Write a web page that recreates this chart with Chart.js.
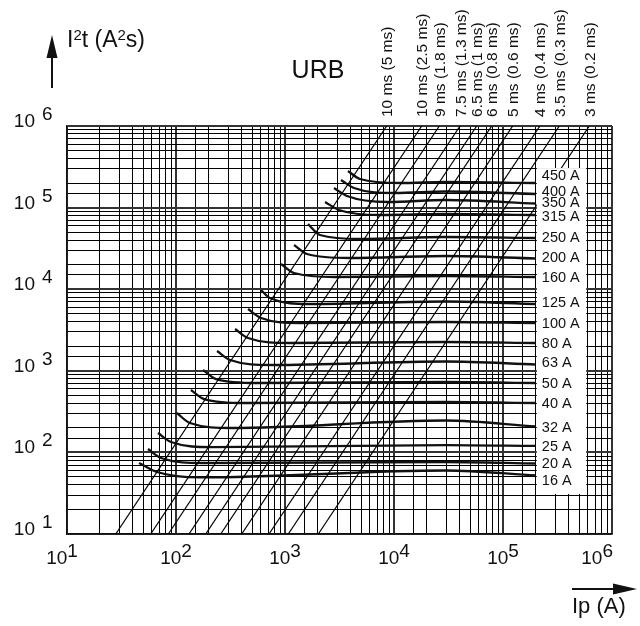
<!DOCTYPE html>
<html lang="en">
<head>
    <meta charset="UTF-8">
    <script src="https://cdn.jsdelivr.net/npm/chart.js"></script>
    <title>URB I2t</title>
    <style>
        body {
            margin: 0;
            background: #fff;
        }
        #wrap {
            width: 640px;
            height: 626px;
        }
    </style>
</head>
<body>
<div id="wrap"><canvas id="myChart"></canvas></div>
<script>
    // fuse ratings, top to bottom
    const ratings = ['450 A', '400 A', '350 A', '315 A', '250 A', '200 A', '160 A', '125 A', '100 A',
        '80 A', '63 A', '50 A', '40 A', '32 A', '25 A', '20 A', '16 A'];

    // upper-left end of each curve (start of the hook)
    const hookIp  = [3785, 3266, 2818, 2329, 1626, 1211, 919, 603, 458, 348, 238, 177, 137, 102, 68.4, 55.3, 45.8];
    const hookI2t = [281000, 217900, 173900, 117100, 62950, 34810, 20360, 9777, 5720, 3253, 1748, 1023, 582, 304, 173, 110, 74.2];
    // bend of the hook
    const kneeIp  = [4875, 4295, 3707, 3126, 2094, 1592, 1211, 728, 603, 458, 313, 233, 181, 134, 90, 72.8, 67];
    const kneeI2t = [224000, 173900, 138800, 93500, 46150, 27010, 15790, 7803, 4438, 2523, 1356, 793, 451, 229, 134, 85.4, 57.5];
    // where the curve goes flat
    const flatIp  = [11350, 10200, 8810, 7450, 4875, 3945, 2877, 1694, 1373, 1112, 760, 565, 439, 327, 218, 177, 166];
    const flatI2t = [200200, 151000, 117100, 81200, 41230, 24120, 14110, 6585, 3854, 2191, 1178, 709, 403, 199, 116, 74.2, 49.3];
    // slight hump around 30 kA, then end of the curve at 200 kA
    const peakIp = 30000;
    const peakI2t = [206000, 157500, 123900, 83500, 43610, 25520, 14520, 7068, 3963, 2254, 1300, 729, 415, 246, 123, 76.3, 60.0];
    const endIp = 200000;
    const endI2t  = [200200, 146800, 112200, 81200, 42400, 23780, 14110, 6585, 3854, 2191, 1195, 709, 403, 208, 120, 73.1, 52.1];

    // diagonal lines, from the 10 A2s floor to the 10^6 A2s top
    const timeLabels = ['10 ms (5 ms)', '10 ms (2.5 ms)', '9 ms (1.8 ms)', '7.5 ms (1.3 ms)', '6.5 ms (1 ms)',
        '6 ms (0.8 ms)', '5 ms (0.6 ms)', '4 ms (0.4 ms)', '3.5 ms (0.3 ms)', '3 ms (0.2 ms)'];
    const lineIpLow  = [28.0, 58.6, 85.0, 131.6, 187.3, 257.1, 400.5, 713.3, 1072, 2021];
    const lineIpHigh = [8570, 17950, 26060, 40360, 57400, 78800, 122700, 218000, 328500, 619000];

    const decades = [1, 2, 3, 4, 5, 6];

    // where the rating labels sit in the box (A2s)
    const labelI2t = [250800, 161200, 117100, 78900, 43600, 24800, 14110, 6970, 3854, 2191, 1282, 709, 403, 205, 120, 74.2, 45.9];

    const FONT = '"Liberation Sans", Arial, Helvetica, sans-serif';

    const datasets = [];
    lineIpLow.forEach((lo, i) => {
        datasets.push({
            data: [{x: lo, y: 10}, {x: lineIpHigh[i], y: 1e6}],
            borderColor: '#000',
            borderWidth: 1.2,
            pointRadius: 0,
            tension: 0
        });
    });
    ratings.forEach((r, i) => {
        datasets.push({
            label: r,
            data: [
                {x: hookIp[i], y: hookI2t[i]},
                {x: kneeIp[i], y: kneeI2t[i]},
                {x: flatIp[i], y: flatI2t[i]},
                {x: peakIp, y: peakI2t[i]},
                {x: endIp, y: endI2t[i]}
            ],
            borderColor: '#111',
            borderWidth: 2.3,
            pointRadius: 0,
            cubicInterpolationMode: 'monotone'
        });
    });

    function isDecade(v) {
        const l = Math.log10(v);
        return Math.abs(l - Math.round(l)) < 1e-6;
    }

    const gridOpts = {
        color: c => (c.tick && isDecade(c.tick.value)) ? '#333' : '#000',
        lineWidth: c => (c.tick && isDecade(c.tick.value)) ? 2 : 1,
        drawTicks: false
    };

    // draw a run of text pieces, some raised and smaller
    function drawPieces(ctx, pieces, x, y) {
        pieces.forEach(p => {
            ctx.font = p[1] + 'px ' + FONT;
            ctx.fillText(p[0], x, y + p[2]);
            x += ctx.measureText(p[0]).width;
        });
    }

    const decorations = {
        id: 'decorations',
        afterDatasetsDraw(chart) {
            const {ctx, scales: {x, y}} = chart;
            ctx.save();

            // white box that holds the rating labels
            const bx0 = x.getPixelForValue(2e5) + 1;
            const bx1 = x.getPixelForValue(5.8e5);
            const by0 = y.getPixelForValue(3.05e5);
            const by1 = y.getPixelForValue(31);
            ctx.fillStyle = '#fff';
            ctx.fillRect(bx0, by0, bx1 - bx0, by1 - by0);

            ctx.fillStyle = '#111';
            ctx.textBaseline = 'alphabetic';
            ctx.textAlign = 'left';
            ctx.font = '14.5px ' + FONT;
            ratings.forEach((r, i) => {
                ctx.fillText(r, bx0 + 5, y.getPixelForValue(labelI2t[i]) + 5.2);
            });

            // y tick labels  "10 n"
            ctx.font = '19px ' + FONT;
            decades.forEach(e => {
                const py = y.getPixelForValue(Math.pow(10, e));
                ctx.textAlign = 'right';
                ctx.fillText('10', 35, py + 1);
                ctx.textAlign = 'left';
                ctx.fillText(String(e), 42, py - 6);
            });

            // x tick labels  10^n
            decades.forEach((e, i) => {
                const px = x.getPixelForValue(Math.pow(10, e));
                const w10 = ctx.measureText('10').width;
                const we = ctx.measureText(String(e)).width;
                let left = px - (w10 + we) / 2;
                if (i === 0) left -= 5;
                if (i === decades.length - 1) left = px + 1 - (w10 + we);
                ctx.textAlign = 'left';
                ctx.fillText('10', left, 564);
                ctx.fillText(String(e), left + w10, 557);
            });

            // diagonal line labels, rotated
            ctx.font = '15.5px ' + FONT;
            lineIpHigh.forEach((v, i) => {
                const px = x.getPixelForValue(v);
                ctx.save();
                ctx.translate(px + 5.5, 117);
                ctx.rotate(-Math.PI / 2);
                ctx.textAlign = 'left';
                ctx.fillText(timeLabels[i], 0, 0);
                ctx.restore();
            });

            // title
            ctx.font = '25px ' + FONT;
            ctx.textAlign = 'center';
            ctx.fillText('URB', 318, 78);

            // axis titles
            ctx.textAlign = 'left';
            drawPieces(ctx, [['I', 23, 0], ['2', 15, -7], ['t (A', 23, 0], ['2', 15, -7], ['s)', 23, 0]], 67, 47);
            ctx.font = '22px ' + FONT;
            ctx.fillText('Ip (A)', 572, 613);

            // arrows
            ctx.strokeStyle = '#111';
            ctx.lineWidth = 2;
            ctx.beginPath();
            ctx.moveTo(52, 88);
            ctx.lineTo(52, 52);
            ctx.moveTo(572, 589);
            ctx.lineTo(618, 589);
            ctx.stroke();
            ctx.beginPath();
            ctx.moveTo(52, 35);
            ctx.lineTo(46.5, 58);
            ctx.lineTo(57.5, 58);
            ctx.closePath();
            ctx.moveTo(637, 589);
            ctx.lineTo(613, 583.5);
            ctx.lineTo(613, 594.5);
            ctx.closePath();
            ctx.fill();

            ctx.restore();
        }
    };

    new Chart(document.getElementById('myChart'), {
        type: 'line',
        data: {datasets: datasets},
        options: {
            responsive: true,
            maintainAspectRatio: false,
            animation: false,
            layout: {padding: {left: 67, right: 28, top: 126, bottom: 92}},
            plugins: {
                legend: {display: false},
                tooltip: {enabled: false}
            },
            scales: {
                x: {
                    type: 'logarithmic',
                    min: 10,
                    max: 1e6,
                    ticks: {display: false, autoSkip: false},
                    grid: gridOpts,
                    border: {color: '#111', width: 1.5}
                },
                y: {
                    type: 'logarithmic',
                    min: 10,
                    max: 1e6,
                    ticks: {display: false, autoSkip: false},
                    grid: gridOpts,
                    border: {color: '#111', width: 1.5}
                }
            }
        },
        plugins: [decorations]
    });
</script>
</body>
</html>
